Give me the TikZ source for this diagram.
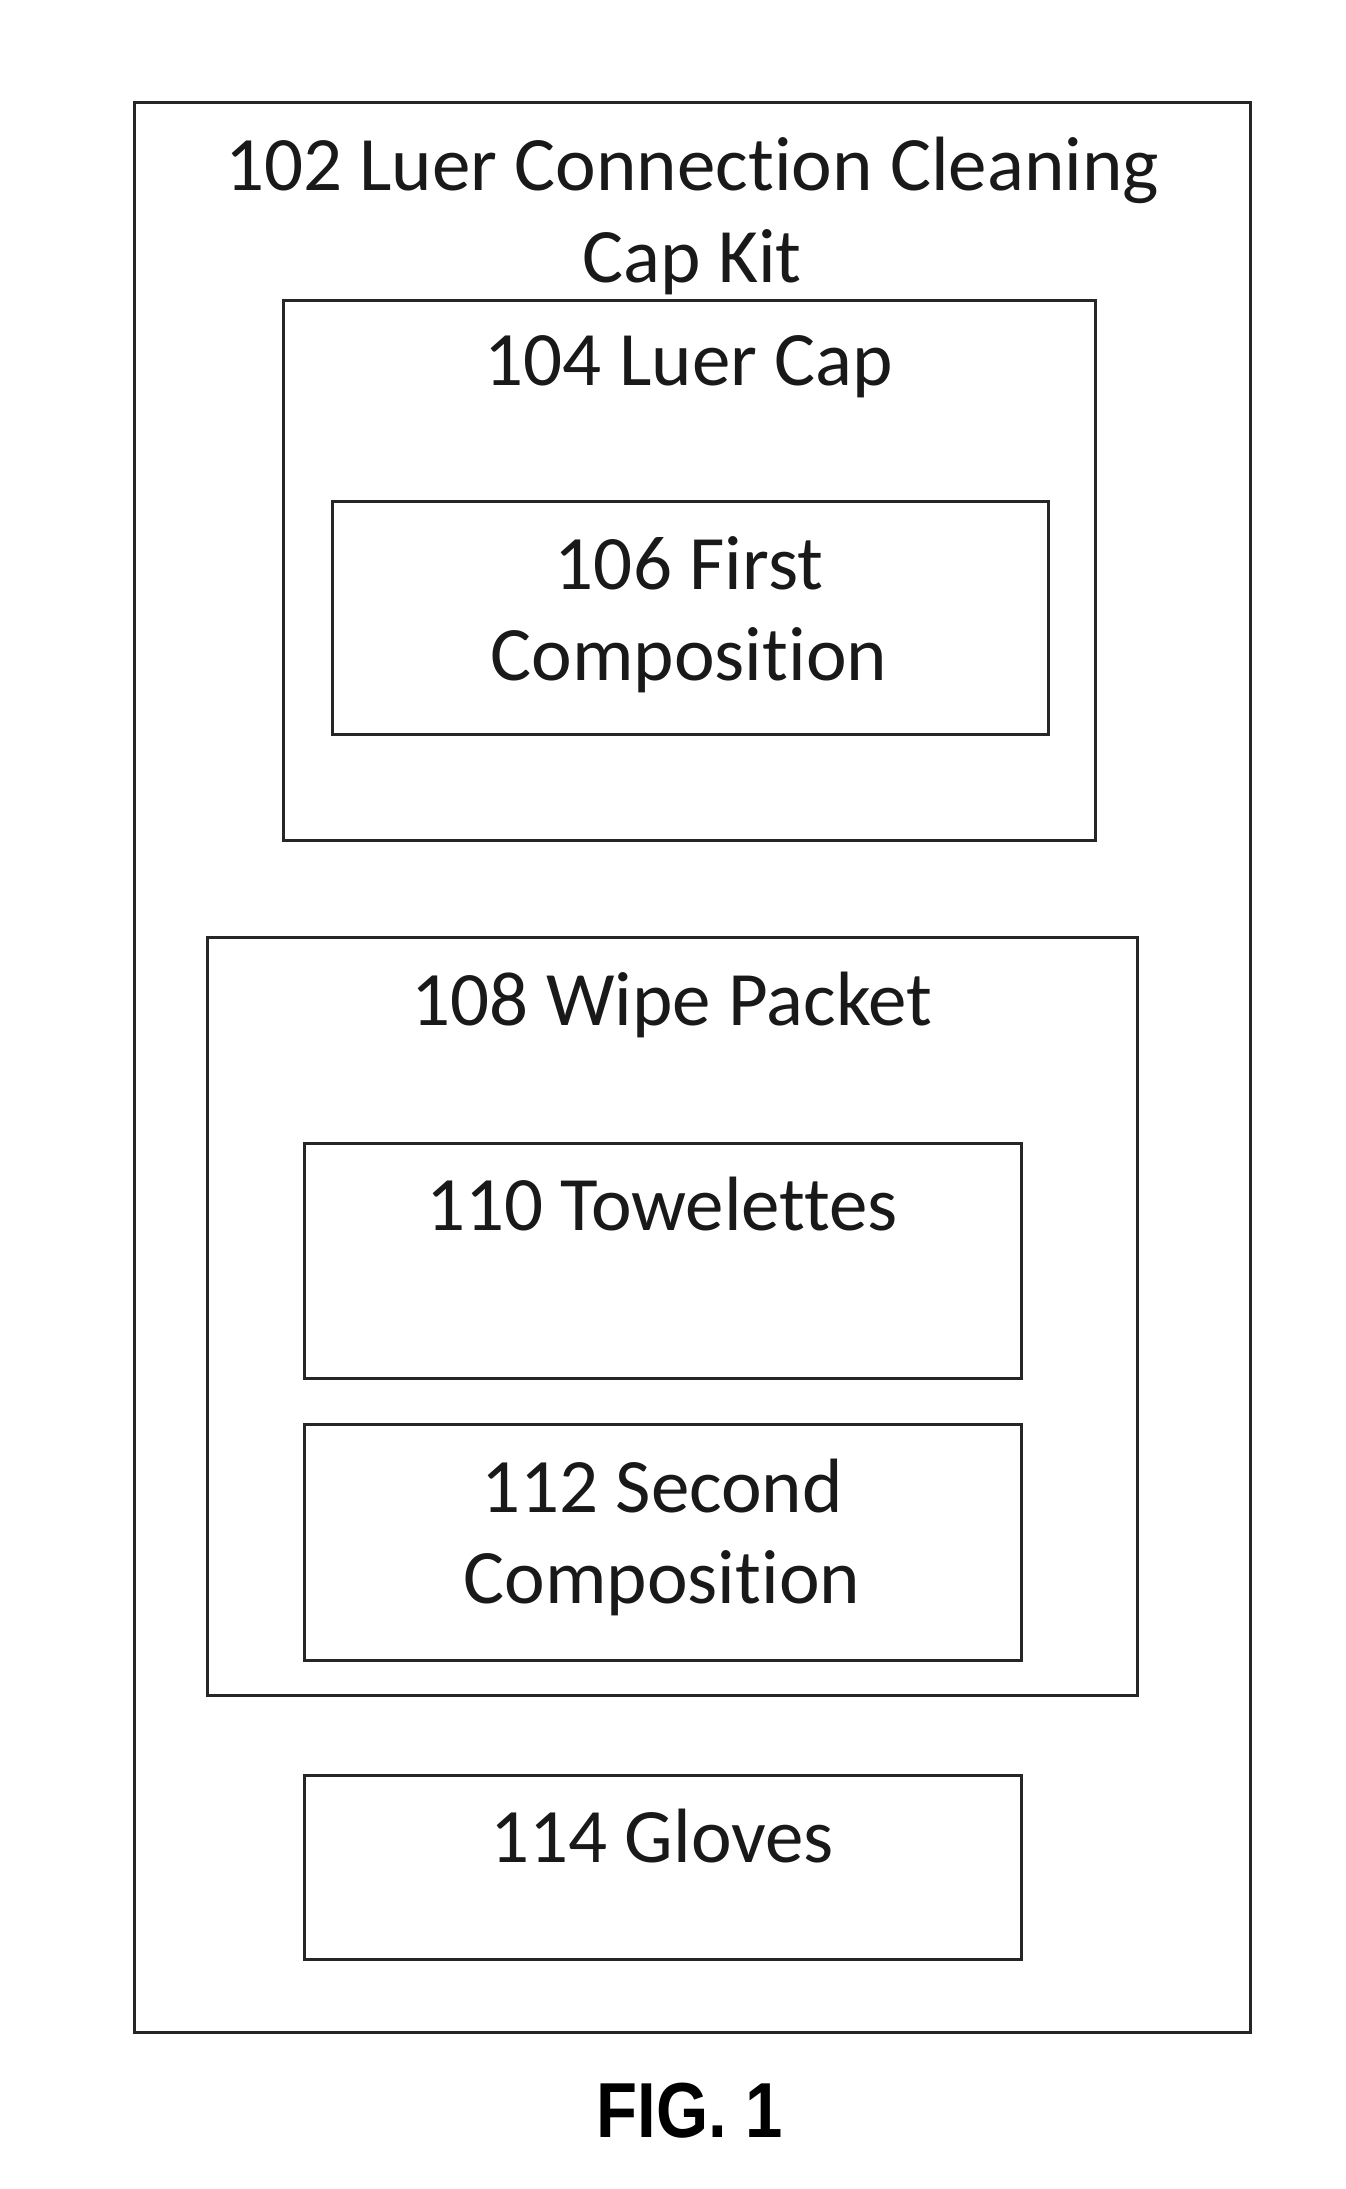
\documentclass[tikz,border=0pt]{standalone}
\usepackage{fontspec}
\setmainfont[Ligatures=NoCommon]{Carlito}
\newfontfamily\figfont{Liberation Sans}
\begin{document}
\begin{tikzpicture}[x=1pt,y=-1pt,
  box/.style={draw=black!85,line width=3pt},
  lbl/.style={anchor=base,inner sep=0pt,font=\fontsize{77}{90}\selectfont,text=black!90},
  figlbl/.style={anchor=base,inner sep=0pt,font=\figfont\bfseries\fontsize{78}{90}\selectfont}]
\useasboundingbox (0,0) rectangle (1345,2189);
\draw[box] (134,103) rectangle (1250,2032);
\draw[box] (283,300) rectangle (1095,840);
\draw[box] (332,501) rectangle (1048,734);
\draw[box] (207,937) rectangle (1137,1695);
\draw[box] (304,1143) rectangle (1021,1378);
\draw[box] (304,1424) rectangle (1021,1660);
\draw[box] (304,1775) rectangle (1021,1959);
\node[lbl] (t102) at (692,190) {102 Luer Connection Cleaning};
\node[lbl] (t102b) at (692,282) {Cap Kit};
\node[lbl] (t104) at (689,385) {104 Luer Cap};
\node[lbl] (t106) at (689,589) {106 First};
\node[lbl] (t106b) at (689,680) {Composition};
\node[lbl] (t108) at (672,1025) {108 Wipe Packet};
\node[lbl] (t110) at (662,1230) {110 Towelettes};
\node[lbl] (t112) at (662,1512) {112 Second};
\node[lbl] (t112b) at (662,1603) {Composition};
\node[lbl] (t114) at (662,1862) {114 Gloves};
\node[figlbl] (fig) at (690,2137) {\scalebox{0.86}[1]{FIG. 1}};
\end{tikzpicture}
\end{document}
